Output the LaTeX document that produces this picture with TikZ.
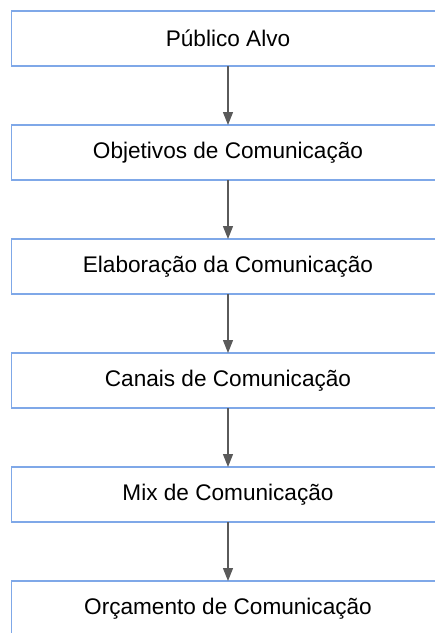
\documentclass[tikz,border=0pt]{standalone}
\usepackage{fontspec}
\setmainfont{Liberation Sans}
\usetikzlibrary{arrows.meta,positioning}
\definecolor{azulcaixa}{HTML}{7FA8E8}
\definecolor{cinzaseta}{HTML}{5A5A5A}

\begin{document}
\begin{tikzpicture}[
	caixa/.style={draw=azulcaixa, line width=1.5pt, minimum width=433pt, minimum height=55pt, inner sep=0pt, outer sep=0pt, font=\fontsize{22.6}{26}\selectfont},
	seta/.style={-{Triangle[length=13pt,width=10pt]}, draw=cinzaseta, fill=cinzaseta, line width=1.2pt},
	node distance=59pt]
	%Limites da figura
	%===========================================================
	\def \Largura {435pt}; %largura da figura
	\def \Altura {633pt}; %altura da figura
	\useasboundingbox (0,-\Altura) rectangle (\Largura,0);
	\clip (0,-\Altura) rectangle (\Largura,0);
	\coordinate (topo) at (228pt,-38.5pt); %centro da primeira caixa
	%Caixas
	%===========================================================
	\node[caixa] (publico) at (topo) {Público Alvo};
	\node[caixa, below=of publico] (objetivos) {Objetivos de Comunicação};
	\node[caixa, below=of objetivos] (elaboracao) {Elaboração da Comunicação};
	\node[caixa, below=of elaboracao] (canais) {Canais de Comunicação};
	\node[caixa, below=of canais] (mix) {Mix de Comunicação};
	\node[caixa, below=of mix] (orcamento) {Orçamento de Comunicação};
	%Setas
	%===========================================================
	\draw[seta] (publico) -- (objetivos);
	\draw[seta] (objetivos) -- (elaboracao);
	\draw[seta] (elaboracao) -- (canais);
	\draw[seta] (canais) -- (mix);
	\draw[seta] (mix) -- (orcamento);
\end{tikzpicture}
\end{document}
